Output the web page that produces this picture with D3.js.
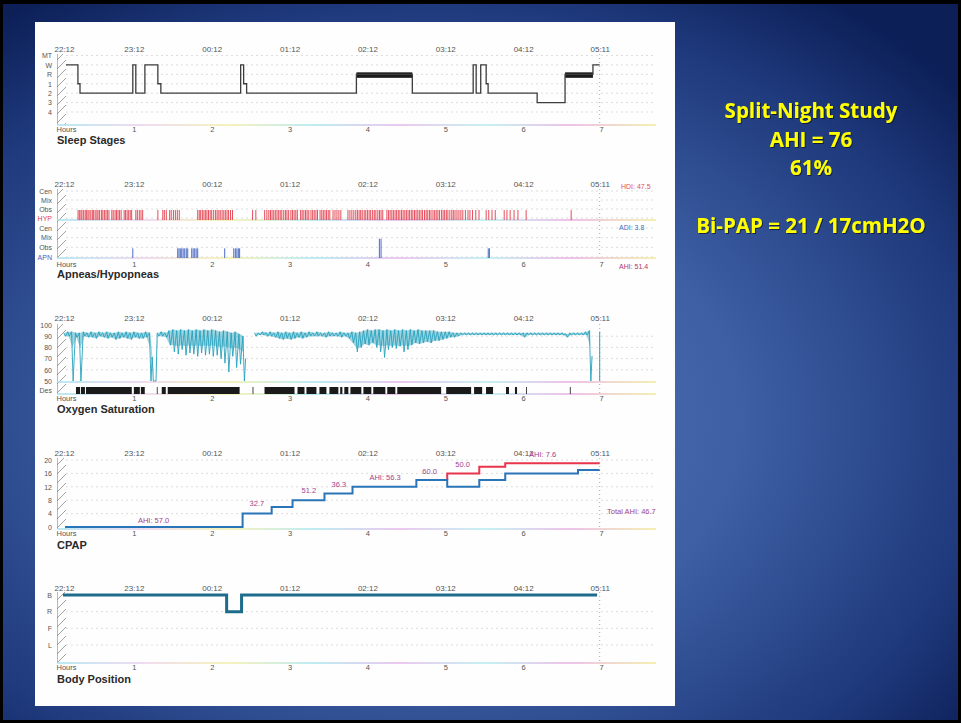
<!DOCTYPE html>
<html>
<head>
<meta charset="utf-8">
<script src="https://cdn.jsdelivr.net/npm/d3@7"></script>
<style>
  html, body { margin: 0; padding: 0; background: #000; }
  svg { display: block; }
</style>
</head>
<body>
<div id="chart"></div>
<script>
const W = 961, H = 723
const FONT = "'Liberation Sans', Arial, sans-serif"

// ---- data (times in minutes after 22:12) ----
const clockLabels = ["22:12", "23:12", "00:12", "01:12", "02:12", "03:12", "04:12", "05:11"]
const clockMinutes = [0, 60, 120, 180, 240, 300, 360, 419]
const hourLabels = ["Hours", "1", "2", "3", "4", "5", "6", "7"]
const hourMinutes = [0, 60, 120, 180, 240, 300, 360, 420]

const stageNames = ["MT", "W", "R", "1", "2", "3", "4"]
const hypnogram = [[7.7, "W"], [16.9, "1"], [18.5, "2"], [59.2, "W"], [61.5, "2"], [68.5, "W"], [78.5, "1"],
    [80.8, "2"], [142.3, "W"], [144.6, "1"], [146.9, "2"], [231.5, "R"], [274.6, "2"], [321.5, "W"],
    [323.8, "2"], [327.3, "W"], [331.5, "1"], [333, "2"], [370.8, "3"], [392.3, "R"], [413.8, "W"], [419, "W"]]

const hypRows = ["Cen", "Mix", "Obs", "HYP"]
const apnRows = ["Cen", "Mix", "Obs", "APN"]
const hypEvents = [17, 18, 19.2, 20, 21.3, 22.5, 23.4, 24.6, 25.5, 26.8, 28, 29, 30.2, 31.5, 32.4, 33.6, 35, 36.1,
    37.3, 38.5, 39.6, 40.8, 43, 44.1, 45.5, 46.6, 47.8, 49, 50.2, 52.5, 53.6, 54.8, 56, 57.2, 58.3,
    61.5, 62.7, 64.2, 65.5, 66.8, 78.5, 82.3, 83.5, 85, 87.6, 88.8, 90.5, 92, 93.5, 95,
    109.2, 110.4, 111.5, 112.8, 114, 115.1, 116.3, 117.5, 118.8, 120, 121.5, 123, 124.2, 125.5, 126.6, 128,
    129.3, 130.5, 131.8, 133, 134.5, 136, 151.5, 154,
    160.8, 162.5, 164, 165.3, 166.5, 167.8, 169, 170.3, 171.6, 172.8, 174, 175.5, 176.8, 178, 179.3, 181,
    182.2, 183.5, 184.8, 186, 188.5, 189.7, 191, 192.3, 193.5, 194.8, 196.5, 197.8, 199, 200.3, 201.5, 203.5,
    204.8, 206, 207.3, 208.5, 209.8, 211, 213.5, 215, 216.5, 218, 219.5,
    225, 226.5, 228, 229.5, 231, 232.3, 233.6, 234.8, 236, 237.5, 238.7, 240, 241.3, 242.5, 244, 245.3, 246.5,
    248, 249.3, 250.5, 251.8, 255, 256.3, 257.5, 258.8, 260, 261.3, 262.5, 263.8, 265, 266.3, 267.5, 268.8,
    270, 271.3, 272.5, 273.8, 275, 276.3, 277.5, 278.8, 280, 281.3, 282.5, 284, 285.3, 286.5, 287.8, 289,
    290.5, 291.8, 293, 294.3, 295.5, 297, 298.3, 299.5, 300.8, 302, 303.5, 305, 306.2, 307.5, 309, 310.5,
    312, 313.5, 315.5, 317.5, 319, 321, 323.5, 326, 331.5, 333.5, 336, 338.5, 345.4, 347.5, 350, 353, 356,
    362.3, 397]
const apnEvents = [[59.2, "Obs"], [93.8, "Obs"], [94.8, "Obs"], [95.8, "Obs"], [96.9, "Obs"], [98, "Obs"],
    [99.2, "Obs"], [100.4, "Obs"], [101.5, "Obs"], [104.6, "Obs"], [105.7, "Obs"], [106.9, "Obs"], [108, "Obs"],
    [109.2, "Obs"], [130, "Obs"], [137, "Obs"], [138.2, "Obs"], [139.4, "Obs"], [140.5, "Obs"], [141.5, "Obs"],
    [249.2, "Mix"], [250.5, "Mix"], [333.1, "Obs"], [334, "Obs"]]
const eventIndexes = [["HDI: 47.5", "HYP"], ["ADI: 3.8", "ADI"], ["AHI: 51.4", "APN"]]

const spo2Ticks = [100, 90, 80, 70, 60, 50]
const spo2Start = 6, spo2Step = 3
const spo2Hi = [93, 94, 94, 93, 93, 94, 93, 94, 93, 94, 93, 94, 93, 93, 94, 93, 94, 93, 94, 93, 93, 94, 93, 50,
    93, 94, 93, 95, 96, 95, 96, 95, 96, 95, 96, 95, 96, 95, 96, 95, 94, 95, 94, 93, 94, 92, 90, null, null,
    93, 93, 94, 93, 94, 93, 94, 93, 94, 93, 94, 93, 94, 93, 94, 93, 94, 93, 93, 94, 93, 93, 94, 93, 93, 94,
    93, 94, 95, 96, 95, 96, 96, 95, 96, 95, 96, 95, 96, 95, 96, 95, 96, 95, 95, 95, 95, 94, 94, 94, 94, 93, 93,
    93, 93, 93, 93, 93, 93, 93, 93, 93, 93, 93, 93, 93, 93, 93, 93, 93, 93, 93, 93, 93, 93, 93, 93, 93, 93,
    93, 92, 93, 93, 93, 93, 94, 95]
const spo2Lo = [90, 90, 50, 89, 50, 90, 89, 89, 88, 90, 89, 88, 89, 87, 88, 89, 88, 87, 89, 88, 88, 89, 50, 50,
    90, 90, 89, 82, 76, 74, 78, 73, 75, 74, 72, 75, 73, 74, 72, 73, 70, 66, 58, 72, 62, 65, 50, null, null,
    90, 91, 91, 90, 90, 89, 88, 87, 88, 87, 88, 89, 88, 89, 90, 90, 90, 90, 89, 90, 90, 90, 89, 90, 88, 84,
    76, 80, 83, 82, 84, 80, 76, 71, 78, 80, 79, 81, 76, 78, 82, 84, 83, 84, 85, 84, 86, 86, 87, 88, 89, 89, 90,
    91, 91, 91, 91, 91, 91, 91, 91, 91, 91, 91, 91, 91, 91, 91, 91, 89, 91, 91, 91, 91, 91, 91, 91, 91, 91,
    91, 89, 91, 91, 91, 91, 91, 50]
const desEvents = [[15.4, 18.5], [19.2, 22.3], [23.1, 58.4], [60, 64.6], [65.4, 68.4], [77.7, 78.3], [81.5, 84.6],
    [86.1, 141.5], [151.5, 152.1], [160.7, 183.8], [186.1, 191.5], [193, 200.7], [203, 208.4], [210.7, 217.6],
    [219, 220.7], [222.2, 225.3], [226.9, 235.3], [236.9, 243], [244.5, 253.8], [255.3, 261.5], [263, 296.8],
    [300.7, 319.9], [322.2, 328.4], [331.4, 336.8], [346.8, 349.1], [353.7, 355.3], [362.2, 362.8], [396, 396.6]]

const cpapTicks = [20, 16, 12, 8, 4, 0]
const epapSteps = [[7, 0], [143.8, 4], [166.2, 6], [182.3, 8], [206.9, 10], [228.5, 12], [277.7, 14],
    [301.5, 12], [326.2, 14], [346.2, 16], [402.3, 17], [419, 17]]
const ipapSteps = [[301.5, 14], [301.5, 16], [326.2, 18], [346.2, 19], [419, 19]]
const cpapAhiLabels = [[63.1, 1.2, "AHI: 57.0"], [149.2, 6.3, "32.7"], [189.2, 10.1, "51.2"], [212.3, 11.9, "36.3"],
    [241.5, 14, "AHI: 56.3"], [282.3, 15.8, "60.0"], [307.7, 17.9, "50.0"], [364.6, 20.9, "AHI: 7.6"],
    [424.6, 3.9, "Total AHI: 46.7"]]

const positionNames = ["B", "R", "F", "L"]
const positionSteps = [[5.4, "B"], [131.5, "R"], [143, "B"], [417, "B"]]

const slideLines = ["Split-Night Study", "AHI = 76", "61%", "Bi-PAP = 21 / 17cmH2O"]

// ---- setup ----
const svg = d3.select("#chart").append("svg").attr("width", W).attr("height", H)
const defs = svg.append("defs")

const bg = defs.append("radialGradient").attr("id", "slideBg").attr("cx", "45%").attr("cy", "58%").attr("r", "72%")
bg.selectAll("stop").data([[0, "#5575b9"], [0.45, "#3e5fa4"], [0.8, "#1f3a7d"], [1, "#0c1f57"]]).join("stop")
    .attr("offset", d => d[0]).attr("stop-color", d => d[1])

const rainbow = defs.append("linearGradient").attr("id", "rainbow").attr("gradientUnits", "userSpaceOnUse")
    .attr("x1", 57).attr("x2", 656).attr("y1", 0).attr("y2", 0)
rainbow.selectAll("stop").data(["#a6e2ef", "#ead0ec", "#f3efa6", "#a8e6ef", "#e6b6ea", "#b4ecf0", "#e8aee2", "#f0ec9a"])
    .join("stop").attr("offset", (d, i) => i / 7).attr("stop-color", d => d)

defs.append("pattern").attr("id", "hatch").attr("patternUnits", "userSpaceOnUse").attr("width", 9).attr("height", 9)
    .append("path").attr("d", "M0,9L9,0M-2,2L2,-2M7,11L11,7").attr("stroke", "#7a7a7a").attr("stroke-width", 0.7)

const shadow = defs.append("filter").attr("id", "shadow")
shadow.append("feDropShadow").attr("dx", 1).attr("dy", 1).attr("stdDeviation", 0.7)
    .attr("flood-color", "#000").attr("flood-opacity", 0.55)

svg.append("rect").attr("width", W).attr("height", H).attr("fill", "#000")
svg.append("rect").attr("x", 3).attr("y", 4).attr("width", 955).attr("height", 716).attr("fill", "url(#slideBg)")
svg.append("rect").attr("x", 35).attr("y", 22).attr("width", 640).attr("height", 684).attr("fill", "#fefefe")

const x = d3.scaleLinear().domain([0, 420]).range([56, 601])

// ---- shared panel pieces ----
function frame(p) {
    const g = svg.append("g")
    const top = g.append("g").attr("transform", `translate(0,${p.clockY})`)
        .call(d3.axisTop(x).tickValues(clockMinutes).tickFormat((d, i) => clockLabels[i]).tickSize(0).tickPadding(0))
    top.select(".domain").remove()
    top.attr("font-family", FONT).attr("font-size", 8)
    top.selectAll("text").attr("fill", "#555").attr("y", 0).attr("dy", 0)
    top.selectAll(".tick").filter((d, i) => i === 0).select("text").attr("text-anchor", "start").attr("dx", -2)

    g.append("rect").attr("x", 57).attr("y", p.top).attr("width", 9).attr("height", p.hatchBottom - p.top)
        .attr("fill", "url(#hatch)")
    g.append("line").attr("x1", 57.5).attr("x2", 57.5).attr("y1", p.top).attr("y2", p.hatchBottom)
        .attr("stroke", "#888").attr("stroke-width", 0.6)

    g.selectAll(".grid").data(p.grid).join("line")
        .attr("x1", 66).attr("x2", 656).attr("y1", d => d).attr("y2", d => d)
        .attr("stroke", "#cfcfcf").attr("stroke-dasharray", "2,3").attr("stroke-width", 0.7)
    g.append("line").attr("x1", x(419)).attr("x2", x(419)).attr("y1", p.top).attr("y2", p.base)
        .attr("stroke", "#aaa").attr("stroke-dasharray", "1,3")

    g.selectAll(".base").data(p.baselines).join("line")
        .attr("x1", 57).attr("x2", 656).attr("y1", d => d).attr("y2", d => d)
        .attr("stroke", "url(#rainbow)").attr("stroke-width", 1.5)

    const bottom = g.append("g").attr("transform", `translate(0,${p.hoursY})`)
        .call(d3.axisBottom(x).tickValues(hourMinutes).tickFormat((d, i) => hourLabels[i]).tickSize(0).tickPadding(0))
    bottom.select(".domain").remove()
    bottom.attr("font-family", FONT).attr("font-size", 7.5)
    bottom.selectAll("text").attr("fill", "#555").attr("y", 0).attr("dy", 0)
    bottom.selectAll(".tick").filter((d, i) => i === 0).select("text").attr("text-anchor", "start")

    g.append("text").attr("x", 57).attr("y", p.titleY).attr("font-family", FONT).attr("font-size", 11)
        .attr("font-weight", "bold").attr("fill", "#2a2a2a").text(p.title)
    return g
}

function leftLabels(scale, colors) {
    const a = svg.append("g").attr("transform", "translate(52,0)")
        .call(d3.axisLeft(scale).tickSize(0).tickPadding(0))
    a.select(".domain").remove()
    a.attr("font-family", FONT).attr("font-size", 7)
    a.selectAll("text").attr("fill", d => (colors && colors[d]) || "#555")
    return a
}

// ---- Sleep stages ----
const yStage = d3.scalePoint().domain(stageNames).range([55.5, 112])
frame({ clockY: 52, top: 54, hatchBottom: 125, base: 125, hoursY: 132, titleY: 144, title: "Sleep Stages",
    grid: stageNames.map(yStage), baselines: [125] })
leftLabels(yStage)

const remBlocks = hypnogram.slice(0, -1).map((d, i) => [d[0], hypnogram[i + 1][0], d[1]]).filter(d => d[2] === "R")
svg.append("g").selectAll("rect").data(remBlocks).join("rect")
    .attr("x", d => x(d[0])).attr("width", d => x(d[1]) - x(d[0]))
    .attr("y", yStage("R") - 2).attr("height", 5.5).attr("fill", "#1c1c1c")
svg.append("path").datum(hypnogram)
    .attr("d", d3.line().x(d => x(d[0])).y(d => yStage(d[1])).curve(d3.curveStepAfter))
    .attr("fill", "none").attr("stroke", "#3d3d3d").attr("stroke-width", 1.3)

// ---- Apneas / Hypopneas ----
const yHyp = d3.scalePoint().domain(hypRows).range([191, 218])
const yApn = d3.scalePoint().domain(apnRows).range([228, 257])
frame({ clockY: 187, top: 189, hatchBottom: 258, base: 258, hoursY: 267, titleY: 278, title: "Apneas/Hypopneas",
    grid: hypRows.map(yHyp).concat(apnRows.map(yApn)), baselines: [220, 258] })
leftLabels(yHyp, { HYP: "#e0404e" })
leftLabels(yApn, { APN: "#3f63c0" })

svg.append("g").selectAll("line").data(hypEvents).join("line")
    .attr("x1", d => x(d)).attr("x2", d => x(d)).attr("y1", 220).attr("y2", yHyp("Obs") + 1)
    .attr("stroke", "#e23c4a").attr("stroke-width", 1).attr("stroke-opacity", 0.9)
svg.append("g").selectAll("line").data(apnEvents).join("line")
    .attr("x1", d => x(d[0])).attr("x2", d => x(d[0])).attr("y1", 258).attr("y2", d => yApn(d[1]) + 1)
    .attr("stroke", "#4a6cc4").attr("stroke-width", 1)

const indexColors = { HYP: "#e0505a", ADI: "#3a6fb8", APN: "#b0356e" }
const indexY = { HYP: 189, ADI: 230, APN: 269 }
svg.append("g").selectAll("text").data(eventIndexes).join("text")
    .attr("x", d => d[1] === "HYP" ? 621 : 619).attr("y", d => indexY[d[1]])
    .attr("font-family", FONT).attr("font-size", 7).attr("fill", d => indexColors[d[1]]).text(d => d[0])

// ---- Oxygen saturation ----
const ySpo2 = d3.scaleLinear().domain([50, 100]).range([381, 325])
frame({ clockY: 321, top: 324, hatchBottom: 394, base: 394, hoursY: 401, titleY: 413, title: "Oxygen Saturation",
    grid: [90, 80, 70, 60].map(ySpo2), baselines: [382, 394] })
leftLabels(d3.scaleOrdinal().domain(spo2Ticks.map(String)).range(spo2Ticks.map(ySpo2)))
svg.append("text").attr("x", 52).attr("y", 393).attr("text-anchor", "end")
    .attr("font-family", FONT).attr("font-size", 7).attr("fill", "#555").text("Des")

// envelope band plus a zigzag between the high and low reading of each bin
const spo2Bins = spo2Hi.map((hi, i) => ({ t: spo2Start + i * spo2Step, hi: hi, lo: spo2Lo[i] }))
svg.append("path").datum(spo2Bins)
    .attr("d", d3.area().defined(d => d.hi != null).x(d => x(d.t + spo2Step / 4))
        .y0(d => ySpo2(Math.max(d.lo, d.hi - 14))).y1(d => ySpo2(d.hi)))
    .attr("fill", "#27a2bd").attr("fill-opacity", 0.45)
const spo2Points = []
spo2Bins.forEach(d => {
    spo2Points.push([d.t, d.hi], [d.t + spo2Step * 0.4, d.lo], [d.t + spo2Step * 0.7, d.hi == null ? null : (d.hi + d.lo) / 2])
})
svg.append("path").datum(spo2Points)
    .attr("d", d3.line().defined(d => d[1] != null).x(d => x(d[0])).y(d => ySpo2(d[1])))
    .attr("fill", "none").attr("stroke", "#27a2bd").attr("stroke-width", 0.9)
svg.append("line").attr("x1", x(419)).attr("x2", x(419)).attr("y1", ySpo2(94)).attr("y2", ySpo2(50))
    .attr("stroke", "#27a2bd").attr("stroke-width", 1)
svg.append("g").selectAll("rect").data(desEvents).join("rect")
    .attr("x", d => x(d[0])).attr("width", d => Math.max(0.8, x(d[1]) - x(d[0])))
    .attr("y", 387).attr("height", 7).attr("fill", "#1a1a1a")

// ---- CPAP ----
const yCpap = d3.scaleLinear().domain([0, 20]).range([527, 460])
frame({ clockY: 456, top: 458, hatchBottom: 529, base: 529, hoursY: 536, titleY: 549, title: "CPAP",
    grid: [20, 16, 12, 8, 4].map(yCpap), baselines: [529] })
leftLabels(d3.scaleOrdinal().domain(cpapTicks.map(String)).range(cpapTicks.map(yCpap)))

const stepLine = d3.line().x(d => x(d[0])).y(d => yCpap(d[1])).curve(d3.curveStepAfter)
svg.append("path").datum(ipapSteps).attr("d", stepLine)
    .attr("fill", "none").attr("stroke", "#e8354c").attr("stroke-width", 2)
svg.append("path").datum(epapSteps).attr("d", stepLine)
    .attr("fill", "none").attr("stroke", "#2a74b8").attr("stroke-width", 2)
svg.append("g").selectAll("text").data(cpapAhiLabels).join("text")
    .attr("x", d => x(d[0])).attr("y", d => yCpap(d[1]))
    .attr("font-family", FONT).attr("font-size", 7.5).attr("fill", "#a3438f").text(d => d[2])

// ---- Body position ----
const yPos = d3.scalePoint().domain(positionNames).range([595, 645])
frame({ clockY: 591, top: 592, hatchBottom: 663, base: 663, hoursY: 670, titleY: 683, title: "Body Position",
    grid: positionNames.slice(1).map(yPos), baselines: [663] })
leftLabels(yPos)
svg.append("path").datum(positionSteps)
    .attr("d", d3.line().x(d => x(d[0])).y(d => yPos(d[1])).curve(d3.curveStepAfter))
    .attr("fill", "none").attr("stroke", "#1e6c8c").attr("stroke-width", 3)

// ---- slide text ----
const slideY = [118, 147, 175, 233]
svg.append("g").selectAll("text").data(slideLines).join("text")
    .attr("x", 811).attr("y", (d, i) => slideY[i]).attr("text-anchor", "middle")
    .attr("font-family", "'Open Sans', Lato, sans-serif").attr("font-weight", "bold").attr("font-size", 20.5)
    .attr("fill", "#ffff00").attr("filter", "url(#shadow)").text(d => d)
</script>
</body>
</html>
